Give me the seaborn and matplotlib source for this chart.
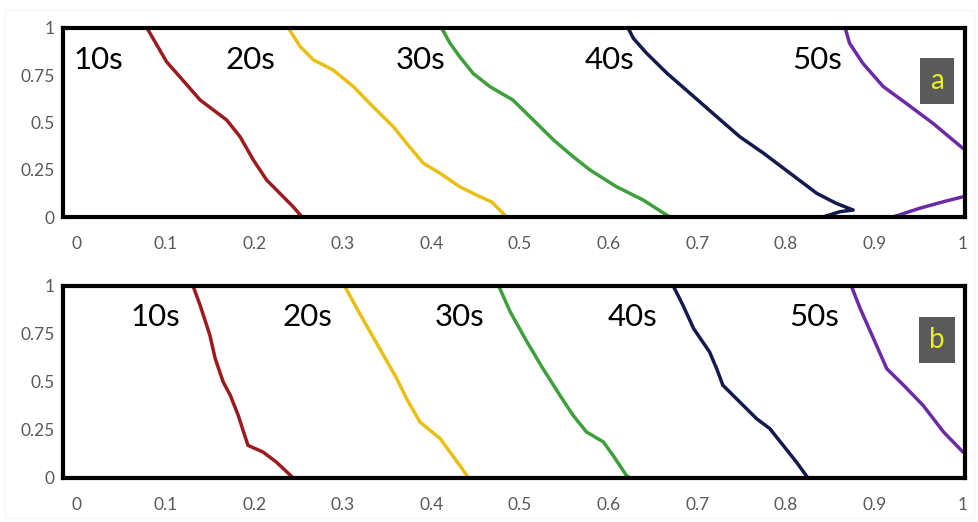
import matplotlib
matplotlib.use("Agg")
import matplotlib.pyplot as plt
import seaborn as sns
import pandas as pd

# ---- data ----
times = ["10s", "20s", "30s", "40s", "50s"]
colors = ["#9b1b1e", "#e9bf12", "#3f9f3c", "#141a4e", "#6b2ba6"]
xticks = [0, 0.1, 0.2, 0.3, 0.4, 0.5, 0.6, 0.7, 0.8, 0.9, 1]
xtick_labels = ["0", "0.1", "0.2", "0.3", "0.4", "0.5", "0.6", "0.7", "0.8", "0.9", "1"]
yticks = [0, 0.25, 0.5, 0.75, 1]
ytick_labels = ["0", "0.25", "0.5", "0.75", "1"]

# panel a
a10_x = [0.079, 0.101, 0.116, 0.139, 0.154, 0.169, 0.184, 0.199, 0.214, 0.229, 0.244, 0.254]
a10_y = [1.0, 0.822, 0.742, 0.619, 0.566, 0.513, 0.425, 0.302, 0.196, 0.125, 0.054, 0.0]
a20_x = [0.2385, 0.252, 0.267, 0.289, 0.312, 0.334, 0.357, 0.372, 0.391, 0.410, 0.432, 0.455, 0.468, 0.485]
a20_y = [1.0, 0.901, 0.831, 0.778, 0.690, 0.584, 0.478, 0.390, 0.284, 0.231, 0.160, 0.107, 0.08, 0.0]
a30_x = [0.4116, 0.421, 0.432, 0.447, 0.466, 0.492, 0.515, 0.538, 0.560, 0.579, 0.609, 0.639, 0.669]
a30_y = [1.0, 0.919, 0.848, 0.760, 0.690, 0.619, 0.513, 0.407, 0.319, 0.249, 0.160, 0.090, 0.0]
a40_x = [0.622, 0.628, 0.643, 0.666, 0.692, 0.722, 0.748, 0.775, 0.805, 0.835, 0.857, 0.876, 0.861, 0.842]
a40_y = [1.0, 0.945, 0.866, 0.760, 0.654, 0.531, 0.425, 0.337, 0.231, 0.125, 0.072, 0.037, 0.028, 0.0]
a50_x = [0.867, 0.872, 0.887, 0.910, 0.936, 0.966, 1.0]
a50_y = [1.0, 0.919, 0.813, 0.690, 0.601, 0.496, 0.363]
a50b_x = [1.0, 0.978, 0.951, 0.921]
a50b_y = [0.107, 0.081, 0.046, 0.0]

# panel b
b10_x = [0.131, 0.139, 0.150, 0.156, 0.165, 0.173, 0.182, 0.188, 0.193, 0.210, 0.225, 0.237, 0.244]
b10_y = [1.0, 0.899, 0.743, 0.622, 0.500, 0.431, 0.326, 0.240, 0.170, 0.135, 0.083, 0.031, 0.0]
b20_x = [0.302, 0.316, 0.331, 0.346, 0.361, 0.372, 0.387, 0.410, 0.421, 0.432, 0.442]
b20_y = [1.0, 0.882, 0.760, 0.639, 0.517, 0.413, 0.292, 0.205, 0.135, 0.066, 0.0]
b30_x = [0.476, 0.489, 0.508, 0.526, 0.545, 0.560, 0.575, 0.594, 0.605, 0.620, 0.624]
b30_y = [1.0, 0.865, 0.708, 0.569, 0.431, 0.326, 0.240, 0.188, 0.118, 0.014, 0.0]
b40_x = [0.673, 0.684, 0.696, 0.714, 0.722, 0.729, 0.748, 0.767, 0.782, 0.797, 0.812, 0.825]
b40_y = [1.0, 0.899, 0.778, 0.656, 0.569, 0.483, 0.396, 0.309, 0.257, 0.170, 0.083, 0.0]
b50_x = [0.874, 0.884, 0.899, 0.914, 0.933, 0.955, 0.978, 1.0]
b50_y = [1.0, 0.882, 0.726, 0.569, 0.483, 0.378, 0.240, 0.135]

# label positions (data coords)
a_label_x = [0.024, 0.196, 0.388, 0.601, 0.835]
b_label_x = [0.088, 0.260, 0.432, 0.627, 0.832]
panel_letters = ["a", "b"]

# ---- build long-form table ----
rows = []
def add(panel, series, seg, xs, ys):
    for i, (x, y) in enumerate(zip(xs, ys)):
        rows.append(dict(panel=panel, series=series, seg=f"{panel}-{series}-{seg}", order=i, x=x, y=y))

add("a", "10s", 0, a10_x, a10_y)
add("a", "20s", 0, a20_x, a20_y)
add("a", "30s", 0, a30_x, a30_y)
add("a", "40s", 0, a40_x, a40_y)
add("a", "50s", 0, a50_x, a50_y)
add("a", "50s", 1, a50b_x, a50b_y)
add("b", "10s", 0, b10_x, b10_y)
add("b", "20s", 0, b20_x, b20_y)
add("b", "30s", 0, b30_x, b30_y)
add("b", "40s", 0, b40_x, b40_y)
add("b", "50s", 0, b50_x, b50_y)
df = pd.DataFrame(rows)

sns.set_theme(style="white")
plt.rcParams["font.family"] = ["Lato", "DejaVu Sans"]

fig = plt.figure(figsize=(9.79, 5.22), dpi=100)
fig.patch.set_facecolor("white")
# faint outer border
fig.add_artist(plt.Rectangle((5 / 979, 4 / 522), 969 / 979, 508 / 522, transform=fig.transFigure,
                             fill=False, edgecolor="#f2f8f2", linewidth=1.0))

axes_pos = {"a": [63 / 979, (522 - 217) / 522, 902 / 979, 189 / 522],
            "b": [63 / 979, (522 - 478) / 522, 902 / 979, 192 / 522]}
label_x = {"a": a_label_x, "b": b_label_x}
label_y = {"a": 0.83, "b": 0.84}
palette = dict(zip(times, colors))

for panel in panel_letters:
    ax = fig.add_axes(axes_pos[panel])
    sub = df[df.panel == panel]
    sns.lineplot(data=sub, x="x", y="y", hue="series", units="seg", estimator=None,
                 sort=False, palette=palette, linewidth=2.5, legend=False, ax=ax,
                 clip_on=True)
    ax.set_xlim(-14 / 886, 1 + 2 / 886)
    ax.set_ylim(0, 1)
    ax.set_xticks(xticks)
    ax.set_xticklabels(xtick_labels)
    ax.set_yticks(yticks)
    ax.set_yticklabels(ytick_labels)
    ax.tick_params(axis="both", length=0, labelsize=12.5, labelcolor="#595959")
    ax.tick_params(axis="x", pad=14)
    ax.tick_params(axis="y", pad=6)
    ax.set_xlabel("")
    ax.set_ylabel("")
    for s in ax.spines.values():
        s.set_visible(True)
        s.set_color("black")
        s.set_linewidth(3)
    for t, lx in zip(times, label_x[panel]):
        ax.text(lx, label_y[panel], t, fontsize=22.5, color="black", ha="center", va="center")
    ax.text(0.969, 0.72, panel, transform=ax.transAxes, fontsize=20, color="#e8ef1e",
            ha="center", va="center",
            bbox=dict(boxstyle="square,pad=0.36", facecolor="#5a5a5a", edgecolor="none"))

fig.savefig("out.png", dpi=100, facecolor="white")
